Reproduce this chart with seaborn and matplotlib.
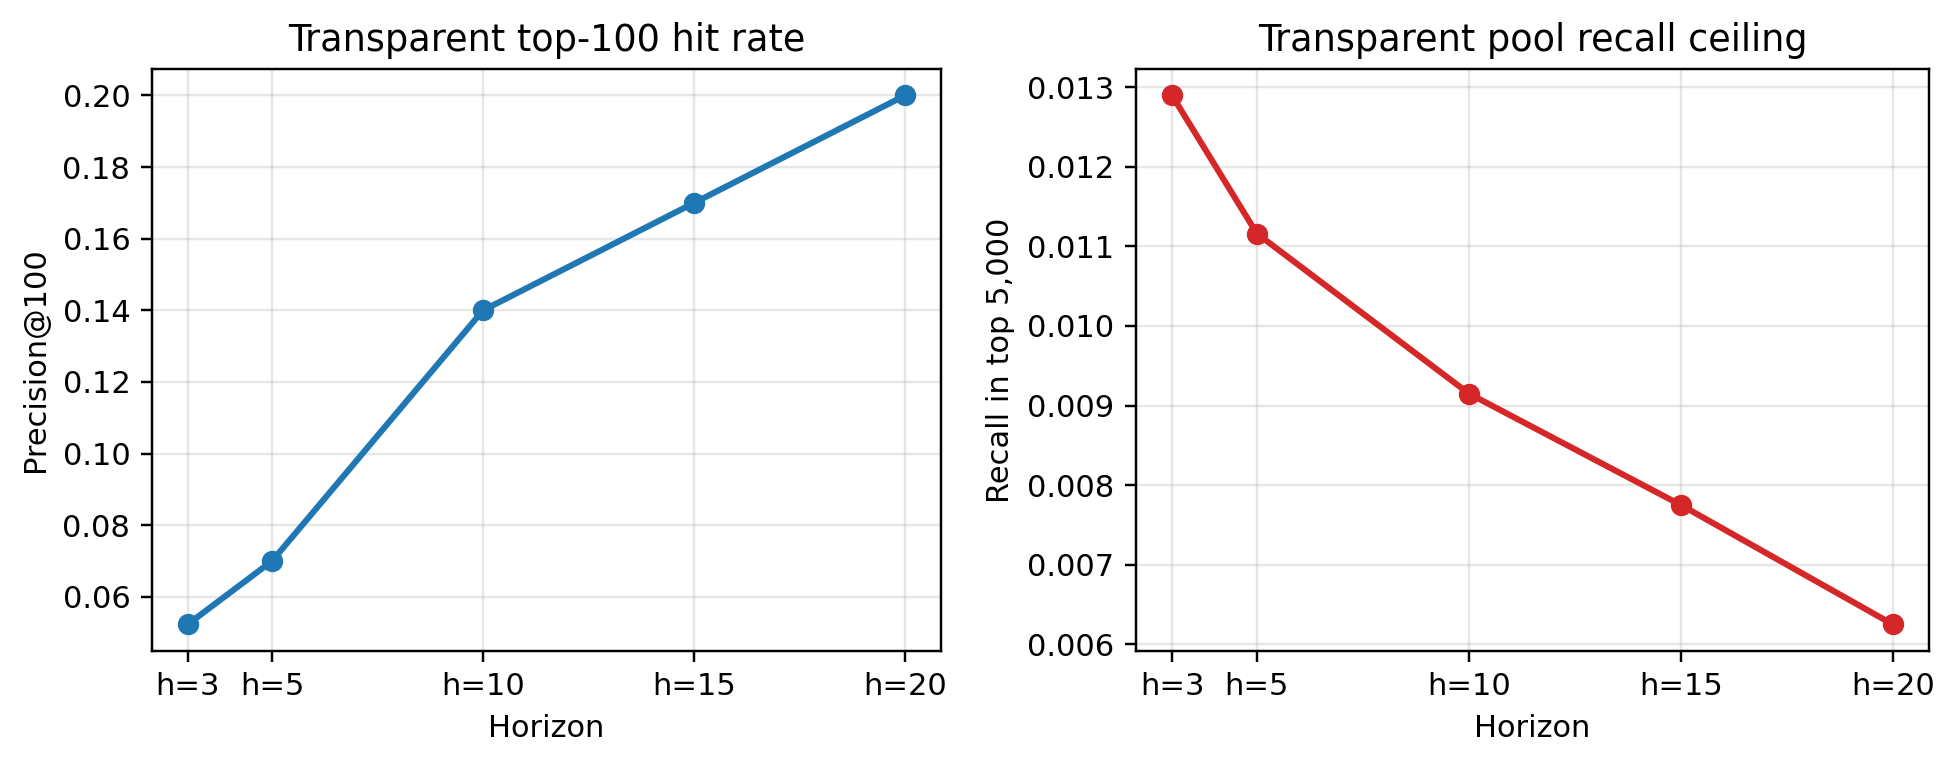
import numpy as np
import pandas as pd
import seaborn as sns
import matplotlib
matplotlib.use("Agg")
import matplotlib.pyplot as plt

horizons = [3, 5, 10, 15, 20]
tick_labels = ["h=3", "h=5", "h=10", "h=15", "h=20"]
precision_at_100 = [0.0523, 0.07, 0.14, 0.17, 0.20]
recall_top_5000 = [0.012894, 0.01116, 0.00915, 0.00775, 0.00625]

df = pd.DataFrame({
    "horizon": horizons,
    "precision": precision_at_100,
    "recall": recall_top_5000,
})

DPI = 220
fig, axes = plt.subplots(1, 2, figsize=(1952 / DPI, 764 / DPI), dpi=DPI)

panels = [
    ("precision", "tab:blue", "Transparent top-100 hit rate", "Precision@100"),
    ("recall", "tab:red", "Transparent pool recall ceiling", "Recall in top 5,000"),
]

for ax, (col, color, title, ylabel) in zip(axes, panels):
    sns.lineplot(data=df, x="horizon", y=col, ax=ax, color=color,
                 marker="o", linewidth=2, markersize=6,
                 markeredgecolor=color, markeredgewidth=1)
    ax.set_xticks(horizons)
    ax.set_xticklabels(tick_labels)
    ax.set_title(title, fontsize=12)
    ax.set_xlabel("Horizon")
    ax.set_ylabel(ylabel)
    ax.grid(True, alpha=0.3)

bottom, top = 0.148, 0.9097
axes[0].set_position([151.7 / 1952, bottom, (941 - 151.7) / 1952, top - bottom])
axes[1].set_position([1136 / 1952, bottom, (1929 - 1136) / 1952, top - bottom])

fig.savefig("out.png", dpi=DPI)
plt.close(fig)
